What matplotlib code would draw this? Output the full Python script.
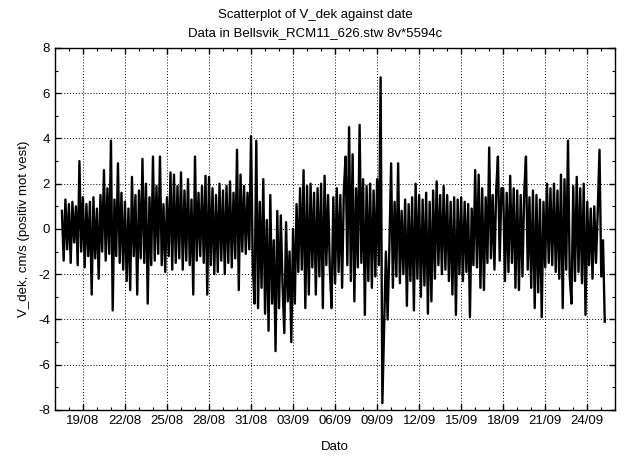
import numpy as np
import pandas as pd
import matplotlib
matplotlib.use("Agg")
import matplotlib.pyplot as plt
import matplotlib.dates as mdates

plt.rcParams['font.family'] = ['Liberation Sans', 'DejaVu Sans']
plt.rcParams['axes.unicode_minus'] = False

# V_dek (cm/s), one value every 3 hours
start = "2011-08-17 12:00"

seg1 = [0.8, -1.4, 1.3, -0.9, 1.1, -1.5, 1.2, -0.6,
        1.0, -1.6, 3.0, -1.0, 1.4, -1.7, 1.1, -1.2,
        1.2, -2.9, 1.4, -1.3, 0.9, -2.2, 1.5, -1.0,
        2.6, -1.4, 1.8, -1.1, 3.9, -3.6, 1.3, -1.2,
        2.9, -1.5, 1.6, -1.8, 1.2, -2.3, 0.9, -2.7,
        2.3, -1.2, 1.5, -2.9, 1.7, -1.3, 3.1, -1.5,
        2.0, -3.3, 1.4, -1.6, 3.2, -1.4, 1.9, -1.1,
        3.2, -1.6, 1.1, -1.9]

seg2 = [1.4, -1.2, 2.5, -1.8, 2.4, -1.5, 1.9, -1.3,
        2.5, -1.8, 1.7, -1.4, 2.2, -1.6, 1.3, -2.9,
        3.2, -1.4, 1.6, -1.2, 1.9, -1.5, 2.35, -2.9,
        2.3, -1.6, 1.8, -2.0, 1.5, -1.9, 2.0, -1.4,
        1.7, -2.0, 1.9, -1.5, 2.1, -1.7, 1.6, -1.3,
        3.5, -2.7, 2.4, -1.0, 1.9, -1.1, 1.6, -0.9,
        4.1, -1.6, -3.3, 3.9, -3.5, 1.2, -2.6, 2.2,
        -3.75, 0.4, -4.5, 1.5, -3.3, -0.5, -5.4, 0.8]

seg3 = [-3.5, 0.6, -2.5, -4.6, 0.3, -3.2, -1.0, -5.0,
        0.0, -3.3, 1.1, -1.9, 1.8, -1.8, 2.6, -3.5,
        1.9, -2.9, 2.0, -1.7, 1.6, -2.9, 1.8, -2.1,
        2.0, -3.5, 2.35, -1.6, 1.5, -1.8, -3.5, 1.4,
        -2.4, 1.8, -1.9, 1.5, -2.6, 1.7, 3.2, -1.6,
        4.5, -2.3, 3.3, -3.2, 1.8, -1.7, 4.6, -1.5,
        2.2, -3.8, 1.9, -2.3, 2.0, -2.6, 1.7, -2.1,
        2.2, -1.6, 6.7, -7.7, -4.3, -1.0, -4.0, -0.8]

seg4 = [2.9, -2.6, 1.2, -2.1, 2.9, -2.4, 0.8, -2.0,
        1.3, -3.4, 1.1, -2.3, 1.4, -3.6, 2.0, -2.2,
        1.5, -3.0, 1.3, -2.5, 1.6, -3.75, 1.2, -3.2,
        1.7, -2.2, 2.1, -1.6, 1.5, -2.0, 1.9, -1.8,
        1.5, -2.3, 1.2, -2.9, 1.4, -3.8, 1.3, -2.0,
        1.4, -2.3, 1.2, -1.9, 1.1, -3.9, 0.9, -1.6,
        2.6, -1.7, 2.4, -2.6, 1.8, -2.7, 1.4, -1.5,
        3.6, -1.3, 1.5, -1.8, 1.7, 3.2, -1.4, 1.8]

seg5 = [1.8, -2.3, 1.6, -1.9, 2.35, -1.5, 1.8, -2.6,
        1.7, -2.7, 1.5, -2.1, 1.6, 3.2, -1.8, 1.4,
        -2.6, 1.7, -3.5, 1.5, -2.8, 1.3, -3.9, 1.2,
        -1.7, 2.0, -1.5, 1.8, -1.6, 2.0, -1.9, 1.7,
        -2.2, 2.4, -3.5, 2.2, -1.8, 3.9, -2.1, -3.3,
        1.9, -2.3, 2.3, -1.9, 1.8, -2.4, 2.0, -3.8,
        1.2, -1.6, 0.9, -2.2, 1.0, -1.5, 0.8, 3.5,
        -2.1, -0.5, -4.1]

v_dek = np.array(seg1 + seg2 + seg3 + seg4 + seg5)
dato = pd.date_range(start, periods=len(v_dek), freq="3h")

fig = plt.figure(figsize=(6.24, 4.57), dpi=100)
ax = fig.add_axes([0.088, 0.103, 0.898, 0.792])

ax.plot(dato, v_dek, color="black", linewidth=1.7)

ax.set_xlim(pd.Timestamp("2011-08-17"), pd.Timestamp("2011-09-26"))
ax.set_ylim(-8, 8)
ax.set_xticks(pd.date_range("2011-08-19", "2011-09-24", freq="3D"))
ax.xaxis.set_major_formatter(mdates.DateFormatter("%d/%m"))
ax.xaxis.set_minor_locator(mdates.DayLocator())
ax.set_yticks(np.arange(-8, 9, 2))
ax.set_yticks(np.arange(-8, 9, 1), minor=True)

ax.tick_params(which="both", direction="in", top=True, right=True, labelsize=9.5, colors="black")
ax.tick_params(which="major", length=4, width=1)
ax.tick_params(which="minor", length=2.5, width=0.8)
ax.grid(True, which="major", linestyle=(0, (1, 2)), color="black", linewidth=0.7)
for s in ax.spines.values():
    s.set_linewidth(1.0)

ax.set_xlabel("Dato", fontsize=9.5, labelpad=10)
ax.set_ylabel("V_dek, cm/s (positiv mot vest)", fontsize=9.5, labelpad=6)
fig.text(0.505, 0.968, "Scatterplot of V_dek against date", ha="center", va="center", fontsize=9.5)
fig.text(0.505, 0.927, "Data in Bellsvik_RCM11_626.stw 8v*5594c", ha="center", va="center", fontsize=9.5)

fig.savefig("out.png", dpi=100)
